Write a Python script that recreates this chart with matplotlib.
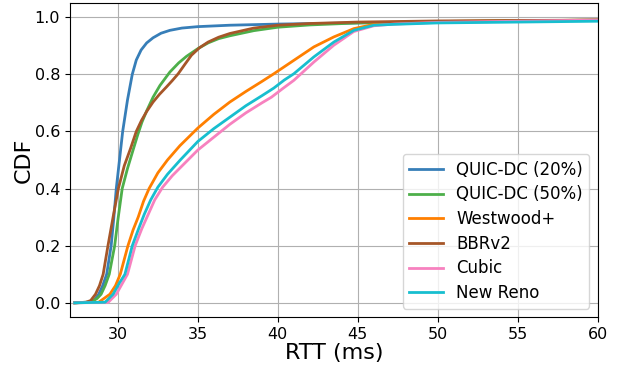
import matplotlib
matplotlib.use("Agg")
import matplotlib.pyplot as plt

# RTT CDF values
quic20_x = [27.3, 28.2, 28.5, 28.8, 29.05, 29.3, 29.58, 29.75, 29.9, 30.1, 30.3, 30.6, 30.9, 31.15, 31.45,
            31.8, 32.2, 32.7, 33.25, 34, 35, 37, 40, 45, 50, 60]
quic20_y = [0, 0.002, 0.008, 0.03, 0.06, 0.1, 0.2, 0.3, 0.4, 0.5, 0.6, 0.71, 0.8, 0.85, 0.885,
            0.91, 0.928, 0.944, 0.954, 0.962, 0.967, 0.972, 0.976, 0.98, 0.984, 0.99]

quic50_x = [27.3, 28.3, 28.7, 28.95, 29.2, 29.46, 29.8, 30.0, 30.27, 30.6, 30.95, 31.25, 31.5, 31.8, 32.2,
            32.63, 33.25, 33.8, 34.29, 35, 35.64, 36.3, 37, 38.5, 40, 42, 45, 50, 60]
quic50_y = [0, 0.003, 0.015, 0.03, 0.06, 0.1, 0.2, 0.29, 0.4, 0.47, 0.535, 0.59, 0.632, 0.672, 0.72,
            0.761, 0.808, 0.84, 0.863, 0.89, 0.91, 0.925, 0.935, 0.953, 0.965, 0.973, 0.98, 0.985, 0.99]

westwood_x = [27.3, 28.8, 29.5, 29.85, 30.15, 30.63, 30.95, 31.27, 31.6, 31.95, 32.5, 33.1, 33.875, 35, 36,
              37, 38, 39, 39.75, 41, 42.25, 43.5, 44.75, 46, 47.25, 50, 60]
westwood_y = [0, 0.002, 0.03, 0.06, 0.1, 0.2, 0.255, 0.3, 0.355, 0.4, 0.455, 0.5, 0.55, 0.612, 0.66,
              0.703, 0.74, 0.775, 0.802, 0.849, 0.896, 0.931, 0.96, 0.975, 0.98, 0.985, 0.99]

bbr_x = [27.3, 28.0, 28.3, 28.6, 28.85, 29.08, 29.38, 29.7, 30.03, 30.4, 30.79, 31.15, 31.48, 31.8, 32.2,
         32.6, 33.04, 33.4, 33.77, 34.2, 34.6, 35.1, 35.64, 36.3, 37, 38.5, 40, 42, 45, 50, 60]
bbr_y = [0, 0.002, 0.008, 0.03, 0.06, 0.1, 0.2, 0.3, 0.4, 0.48, 0.54, 0.6, 0.639, 0.67, 0.703,
         0.73, 0.756, 0.778, 0.802, 0.836, 0.867, 0.893, 0.913, 0.93, 0.943, 0.962, 0.972, 0.978, 0.983, 0.987, 0.99]

cubic_x = [27.3, 29.4, 29.9, 30.3, 30.6, 31.08, 31.5, 31.9, 32.3, 32.8, 33.4, 34.2, 35, 36, 37, 38, 39,
           39.6, 40.3, 41, 42.25, 43.5, 44.75, 46, 47.25, 50, 60]
cubic_y = [0, 0.002, 0.03, 0.07, 0.1, 0.2, 0.26, 0.31, 0.36, 0.405, 0.445, 0.49, 0.535, 0.58, 0.625, 0.665, 0.70,
           0.72, 0.75, 0.779, 0.843, 0.902, 0.95, 0.97, 0.976, 0.982, 0.99]

reno_x = [27.3, 29.2, 29.7, 30.1, 30.44, 30.9, 31.3, 31.65, 32.05, 32.5, 33.1, 33.9, 35, 36, 37, 38, 39,
          39.75, 40.4, 41, 42.25, 43.5, 44.75, 46, 47.25, 50, 60]
reno_y = [0, 0.002, 0.03, 0.07, 0.1, 0.2, 0.26, 0.31, 0.36, 0.405, 0.45, 0.5, 0.565, 0.61, 0.65, 0.69, 0.725,
          0.752, 0.78, 0.802, 0.861, 0.913, 0.954, 0.972, 0.975, 0.98, 0.986]

series = [
    ("QUIC-DC (20%)", quic20_x, quic20_y, "#377eb8"),
    ("QUIC-DC (50%)", quic50_x, quic50_y, "#4daf4a"),
    ("Westwood+", westwood_x, westwood_y, "#ff7f00"),
    ("BBRv2", bbr_x, bbr_y, "#a65628"),
    ("Cubic", cubic_x, cubic_y, "#f781bf"),
    ("New Reno", reno_x, reno_y, "#17becf"),
]

fig = plt.figure(figsize=(6.24, 3.67), dpi=100)
ax = fig.add_axes([0.112, 0.136, 0.846, 0.856])

for name, xs, ys, col in series:
    ax.plot(xs, ys, color=col, lw=2, label=name)

ax.set_xlim(27, 60)
ax.set_ylim(-0.05, 1.05)
ax.set_xticks([30, 35, 40, 45, 50, 55, 60])
ax.set_yticks([0.0, 0.2, 0.4, 0.6, 0.8, 1.0])
ax.tick_params(labelsize=11.5)
ax.grid(True)

ax.set_xlabel("RTT (ms)", fontsize=16, labelpad=1)
ax.set_ylabel("CDF", fontsize=16, labelpad=1)
ax.legend(loc="lower right", fontsize=12, labelspacing=0.4)

plt.savefig("out.png", dpi=100)
